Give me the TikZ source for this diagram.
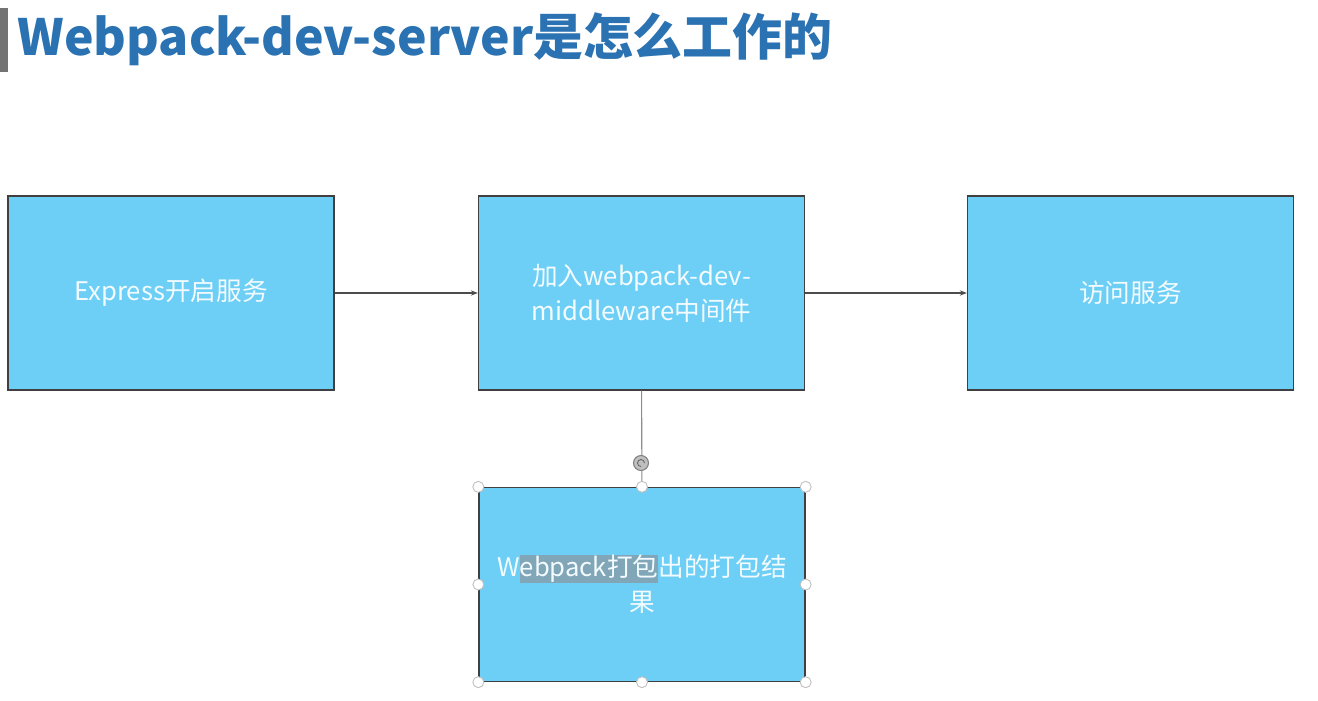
\documentclass[tikz,border=0pt]{standalone}
\usepackage{fontspec}
\setmainfont{Noto Sans CJK SC}
\usetikzlibrary{arrows.meta}

\definecolor{boxblue}{RGB}{109,207,246}
\definecolor{titleblue}{RGB}{42,114,178}
\definecolor{marked}{RGB}{128,166,184}

\tikzset{
    stepbox/.style = {draw = black!75, line width = 0.8pt, fill = boxblue,
        minimum width = 6.52cm, minimum height = 3.88cm, text = white!92!boxblue,
        font = \fontsize{14.6}{20}\selectfont, align = center},
    link/.style = {-{Stealth[length = 4pt, width = 3pt]}, draw = black!70, line width = 0.6pt},
    handle/.style = {circle, draw = black!25, fill = white, line width = 0.5pt,
        inner sep = 0pt, minimum size = 0.22cm}
}

\begin{document}
\begin{tikzpicture}[x = 0.02cm, y = -0.02cm]
    \useasboundingbox (0,0) rectangle (1318,700);
    %titel
    \fill [black!55] (0,8) rectangle (8,72);
    \node [anchor = west, text = titleblue, font = \fontsize{28.4}{34}\selectfont\bfseries, inner sep = 0pt]
        (title) at (17,39) {Webpack-dev-server是怎么工作的};

    %dobozok
    \node [stepbox] (express) at (171,293) {Express开启服务};
    \node [stepbox] (middle) at (641.5,293) {加入webpack-dev-\\middleware中间件};
    \node [stepbox] (visit) at (1130.5,293) {访问服务};
    \node [stepbox] (bundle) at (642,584.5)
        {W{\setlength\fboxsep{0pt}\colorbox{marked}{ebpack打包}}出的打包结\\果};

    \draw [link] (express) -- (middle);
    \draw [link] (middle) -- (visit);
    \draw [draw = black!45, line width = 0.6pt] (middle) -- (bundle);

    %kijeloles fogantyui
    \foreach \a in {north west, north, north east, west, east, south west, south, south east}{
        \node [handle] at (bundle.\a) {};
    }
    \node [circle, draw = black!50, fill = black!25, line width = 0.6pt, minimum size = 0.3cm, inner sep = 0pt]
        (turn) at (641,463) {};
    \draw [black!60, line width = 0.5pt] (turn.center) ++(0:0.07cm) arc (0:270:0.07cm);
\end{tikzpicture}
\end{document}
